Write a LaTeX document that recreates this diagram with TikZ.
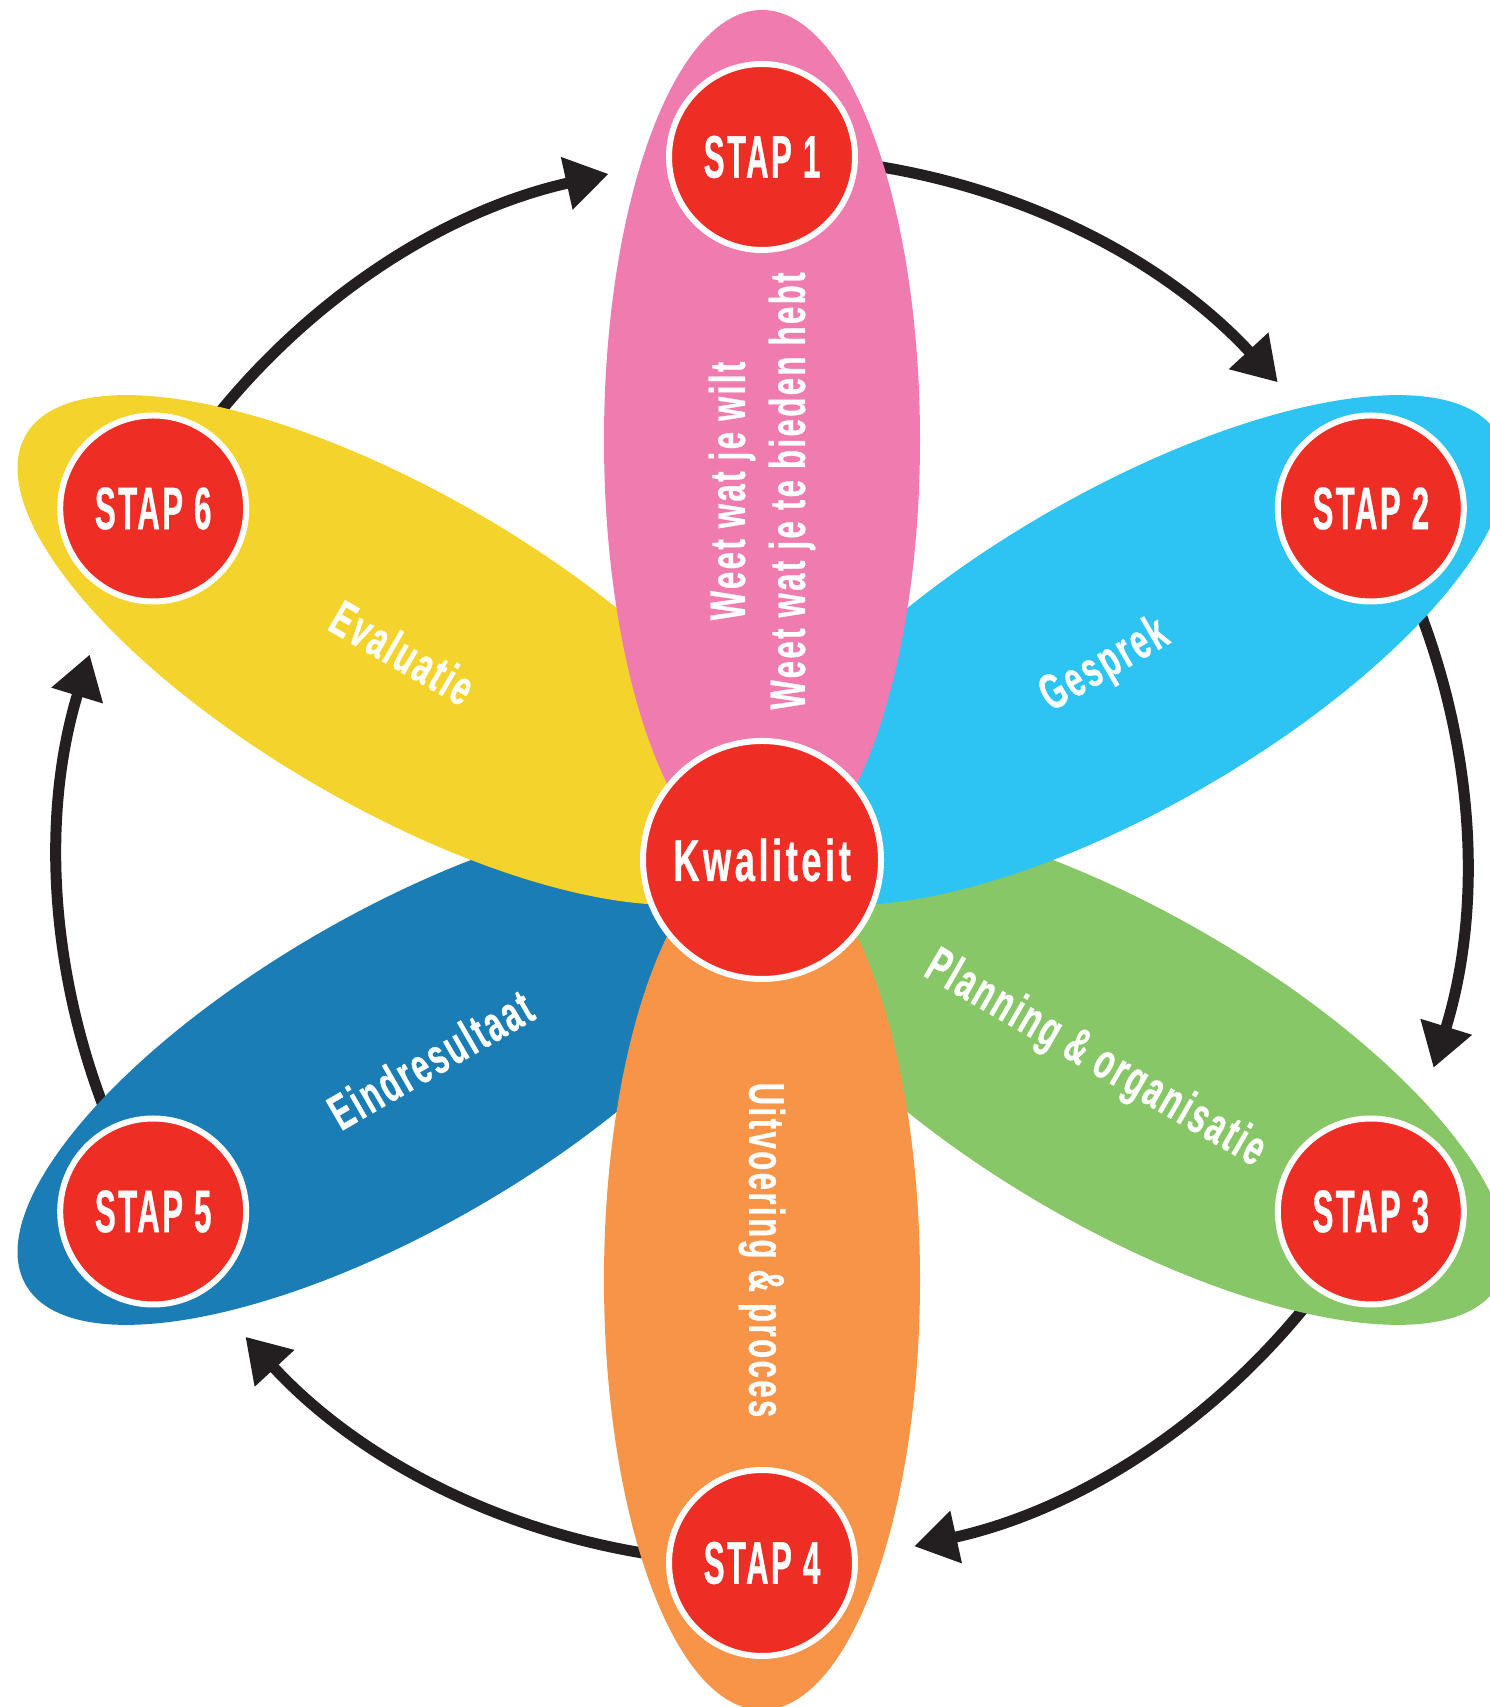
\documentclass[tikz,border=0pt]{standalone}
\usepackage{fontspec}
\usetikzlibrary{arrows.meta}
\newfontfamily\stapfont{Liberation Sans}[FakeStretch=0.52, LetterSpace=4, FakeBold=0.6]
\newfontfamily\lblfont{Liberation Sans}[FakeStretch=0.62, LetterSpace=5, FakeBold=0.6]
\newfontfamily\kwfont{Liberation Sans}[FakeStretch=0.62, LetterSpace=6, FakeBold=0.6]
\definecolor{cpink}{HTML}{F07CAF}
\definecolor{clblue}{HTML}{2DC4F3}
\definecolor{cgreen}{HTML}{88C768}
\definecolor{corange}{HTML}{F79448}
\definecolor{cdblue}{HTML}{1B7DB6}
\definecolor{cyellow}{HTML}{F4D42C}
\definecolor{cred}{HTML}{EE2E24}
\definecolor{cblack}{HTML}{231F20}
\pgfdeclarelayer{bg}
\pgfsetlayers{bg,main}
\begin{document}
\begin{tikzpicture}[x=1pt,y=1pt,
  stap/.style={circle, fill=cred, draw=white, line width=6pt, minimum size=186pt, inner sep=0pt, text=white, font=\stapfont\bfseries\fontsize{60}{60}\selectfont},
  kw/.style={circle, fill=cred, draw=white, line width=6pt, minimum size=238pt, inner sep=0pt, text=white, font=\kwfont\bfseries\fontsize{58.6}{60}\selectfont},
  lbl/.style={text=white, font=\lblfont\bfseries\fontsize{50}{60}\selectfont, inner sep=0pt, align=center},
  cyc/.style={line width=11pt, draw=cblack, -{Triangle[length=43pt,width=51pt]}}]
\useasboundingbox (0,0) rectangle (1490,1707);
\coordinate (C) at (762,847);
\node[kw] (k) at (C) {Kwaliteit};
\foreach \i/\a in {1/90,2/30,3/-30,4/-90,5/-150,6/150}
  \node[stap] (s\i) at ([shift={(\a:703)}]C) {STAP \i};
\node[lbl, rotate=90] (t1) at ([shift={(90:369)}]C) {Weet wat je wilt\\Weet wat je te bieden hebt};
\node[lbl, rotate=30] (t2) at ([shift={(29.5:394)}]C) {Gesprek};
\node[lbl, rotate=-30] (t3) at ([shift={(-31:388)}]C) {Planning \& organisatie};
\node[lbl, rotate=-90] (t4) at ([shift={(-90:390)}]C) {Uitvoering \& proces};
\node[lbl, rotate=30] (t5) at ([shift={(-149:387)}]C) {Eindresultaat};
\node[lbl, rotate=-30] (t6) at ([shift={(150:415)}]C) {Evaluatie};
\begin{pgfonlayer}{bg}
\clip (0,0) rectangle (1490,1707);
\draw[cyc] (s1.center) arc[start angle=90,end angle=42.8,radius=703pt];
\draw[cyc] (s2.center) arc[start angle=30,end angle=-17.2,radius=703pt];
\draw[cyc] (s3.center) arc[start angle=-30,end angle=-77.5,radius=703pt];
\draw[cyc] (s4.center) arc[start angle=-90,end angle=-137.3,radius=703pt];
\draw[cyc] (s5.center) arc[start angle=-150,end angle=-197,radius=703pt];
\draw[cyc] (s6.center) arc[start angle=150,end angle=102.6,radius=703pt];
\foreach \a/\c in {-30/cgreen,-150/cdblue,150/cyellow,30/clblue,-90/corange,90/cpink}
  \fill[\c, shift={(C)}, rotate=\a] (420,0) ellipse [x radius=430pt, y radius=158pt];
\end{pgfonlayer}
\end{tikzpicture}
\end{document}
